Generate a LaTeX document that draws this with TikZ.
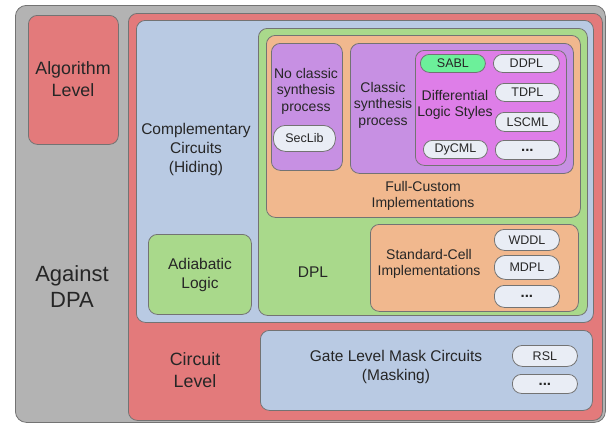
\documentclass[tikz,border=0pt]{standalone}
\usepackage{fontspec}
\setmainfont{Liberation Sans}
\definecolor{bggray}{HTML}{B3B3B3}
\definecolor{lvlred}{HTML}{E37A7B}
\definecolor{lvlblue}{HTML}{B9CAE3}
\definecolor{lvlgreen}{HTML}{A9D98B}
\definecolor{lvlorange}{HTML}{F1B88E}
\definecolor{lvlpurple}{HTML}{C790E3}
\definecolor{lvlmagenta}{HTML}{DE7EE8}
\definecolor{mint}{HTML}{6CF09A}
\definecolor{pillgray}{HTML}{E9EDF5}

\begin{document}
\begin{tikzpicture}[x=1pt, y=-1pt,
   every node/.style={text=black!85, align=center, inner sep=0pt},
   box/.style={draw=black!55, line width=0.8pt, rounded corners=9pt, anchor=north west},
   sz/.style 2 args={minimum width=#1pt, minimum height=#2pt},
   pill/.style={box, fill=pillgray, font=\fontsize{12.5}{14}\selectfont},
   more/.style={pill, font=\fontsize{15}{16}\bfseries},
   big/.style={font=\fontsize{17.8}{22}\selectfont},
   mid/.style={font=\fontsize{15.5}{19}\selectfont},
   small/.style={font=\fontsize{14}{16.5}\selectfont}]

\useasboundingbox (0,0) rectangle (606,424);

% levels
\node[box, fill=bggray, sz={590}{417}, rounded corners=11pt] (against) at (15,5) {};
\node[box, fill=lvlred, sz={90}{129}] (algo) at (28,15) {};
\node[box, fill=lvlred, sz={474}{407}] (circuit) at (128,13) {};
\node[box, fill=lvlblue, sz={457}{302}] (hiding) at (136,20) {};
\node[box, fill=lvlgreen, sz={329}{287}] (dpl) at (258,28) {};
\node[box, fill=lvlorange, sz={314}{182}] (fullcustom) at (266,35) {};
\node[box, fill=lvlpurple, sz={71}{127}] (noclassic) at (271,43) {};
\node[box, fill=lvlpurple, sz={223}{130}] (classic) at (350,43) {};
\node[box, fill=lvlmagenta, sz={151}{115}] (diff) at (415,50) {};
\node[box, fill=lvlgreen, sz={103}{80}] (adiabatic) at (148,234) {};
\node[box, fill=lvlorange, sz={208}{87}] (stdcell) at (370,224) {};
\node[box, fill=lvlblue, sz={332}{80}] (gate) at (260,330) {};

% logic styles
\node[pill, fill=mint, sz={65}{18}] (sabl) at (420,54) {SABL};
\node[pill, sz={66}{18}] (ddpl) at (493,54) {DDPL};
\node[pill, sz={64}{18}] (tdpl) at (495,83) {TDPL};
\node[pill, sz={64}{19}] (lscml) at (495,112) {LSCML};
\node[pill, sz={64}{18}] (dycml) at (423,140) {DyCML};
\node[more, sz={64}{19}] (diffmore) at (495,140) {...};
\node[pill, sz={62}{26}, rounded corners=12pt] (seclib) at (273,125) {SecLib};
\node[pill, sz={65}{21}, rounded corners=10pt] (wddl) at (494,229) {WDDL};
\node[pill, sz={65}{24}, rounded corners=11pt] (mdpl) at (494,255) {MDPL};
\node[more, sz={65}{22}, rounded corners=10pt] (stdmore) at (494,285) {...};
\node[pill, sz={65}{21}, rounded corners=10pt] (rsl) at (512,345) {RSL};
\node[more, sz={65}{19}] (gatemore) at (512,374) {...};

% labels
\node[big] (algotext) at (73,79) {Algorithm\\Level};
\node[font=\fontsize{22}{26}\selectfont] (againsttext) at (72,287) {Against\\DPA};
\node[big] (circuittext) at (195,370) {Circuit\\Level};
\node[mid] (hidingtext) at (196,149) {Complementary\\Circuits\\(Hiding)};
\node[small] (noclassictext) at (306,91) {No classic\\synthesis\\process};
\node[small] (classictext) at (383,105) {Classic\\synthesis\\process};
\node[small] (difftext) at (455,105) {Differential\\Logic Styles};
\node[small] (fullcustomtext) at (423,196) {Full-Custom\\Implementations};
\node[mid] (dpltext) at (313,272) {DPL};
\node[mid] (adiabatictext) at (200,275) {Adiabatic\\Logic};
\node[small] (stdcelltext) at (429,264) {Standard-Cell\\Implementations};
\node[mid] (gatetext) at (396,367) {Gate Level Mask Circuits\\(Masking)};

\end{tikzpicture}
\end{document}
